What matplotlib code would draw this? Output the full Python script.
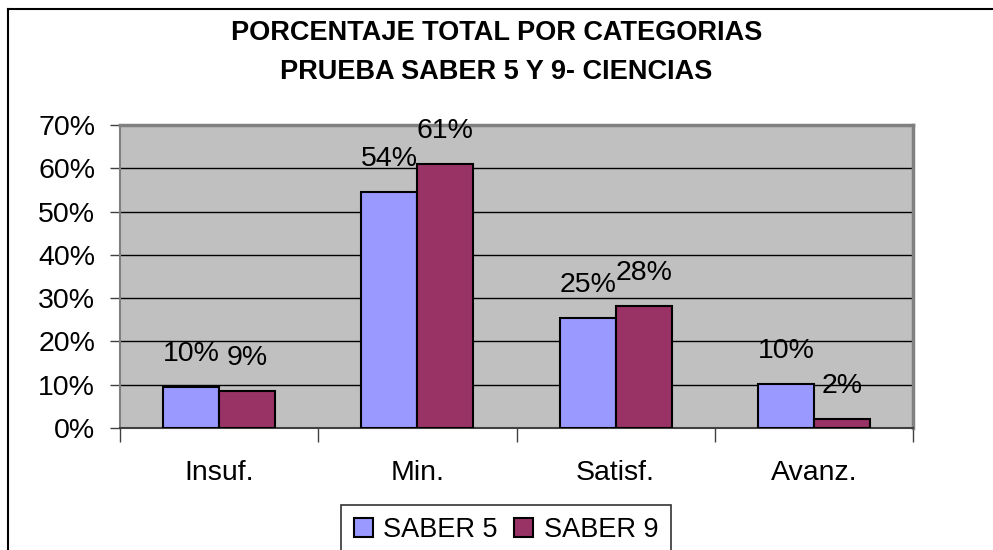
import numpy as np
import matplotlib
matplotlib.use('Agg')
import matplotlib.pyplot as plt
from matplotlib.lines import Line2D
from matplotlib.ticker import FixedLocator

plt.rcParams['font.family'] = ['Liberation Sans', 'DejaVu Sans']

categories = ['Insuf.', 'Min.', 'Satisf.', 'Avanz.']
saber5 = [9.5, 54.6, 25.5, 10.2]
saber9 = [8.6, 60.9, 28.3, 2.1]
labels5 = ['10%', '54%', '25%', '10%']
labels9 = ['9%', '61%', '28%', '2%']
series_names = ['SABER 5', 'SABER 9']

W, H = 993, 550
fig = plt.figure(figsize=(W / 100, H / 100), dpi=100)
ax = fig.add_axes([120 / W, 1 - 428 / H, (913 - 120) / W, (428 - 125) / H])
ax.set_facecolor('#C0C0C0')

index = np.arange(len(categories))
bar_width = 0.283
fs = 20.5

rects1 = ax.bar(index - bar_width / 2, saber5, bar_width, color='#9999FF',
                edgecolor='black', linewidth=1.5, label=series_names[0], zorder=3)
rects2 = ax.bar(index + bar_width / 2, saber9, bar_width, color='#993366',
                edgecolor='black', linewidth=1.5, label=series_names[1], zorder=3)

for rects, labs in ((rects1, labels5), (rects2, labels9)):
    for r, lab in zip(rects, labs):
        ax.annotate(lab, (r.get_x() + r.get_width() / 2, r.get_height()),
                    xytext=(0, 33), textcoords='offset pixels',
                    ha='center', va='center', fontsize=fs, zorder=4)

ax.set_xlim(-0.5, 3.5)
ax.set_ylim(0, 70)
ax.set_yticks(np.arange(0, 71, 10))
ax.set_yticklabels(['%d%%' % v for v in range(0, 71, 10)], fontsize=fs)
ax.set_xticks(index)
ax.set_xticklabels(categories, fontsize=fs)
ax.xaxis.set_minor_locator(FixedLocator(np.arange(-0.5, 4.0, 1.0)))
ax.tick_params(axis='x', which='major', length=0, pad=23)
ax.tick_params(axis='x', which='minor', length=10, width=1, color='#404040', direction='out')
ax.tick_params(axis='y', length=7, width=1, color='#404040', pad=11)

for y in range(10, 70, 10):
    ax.axhline(y, color='black', linewidth=1, zorder=1)

ax.spines['top'].set_color('#808080')
ax.spines['right'].set_color('#808080')
ax.spines['top'].set_linewidth(2.5)
ax.spines['right'].set_linewidth(2.5)
ax.spines['left'].set_color('#808080')
ax.spines['left'].set_linewidth(1.5)
ax.spines['bottom'].set_color('#404040')
ax.spines['bottom'].set_linewidth(1.5)

fig.text(0.5, 1 - 33 / H, 'PORCENTAJE TOTAL POR CATEGORIAS', ha='center', va='center',
         fontsize=19.5, fontweight='bold')
fig.text(0.5, 1 - 72 / H, 'PRUEBA SABER 5 Y 9- CIENCIAS', ha='center', va='center',
         fontsize=19.5, fontweight='bold')

leg = fig.legend(loc='upper center', bbox_to_anchor=(506 / W, 1 - 505 / H), ncol=2,
                 fontsize=19.5, frameon=True, fancybox=False, edgecolor='black',
                 handlelength=0.7, handleheight=0.7, handletextpad=0.4,
                 columnspacing=0.6, borderpad=0.45, borderaxespad=0)
leg.get_frame().set_linewidth(1.2)
for h in leg.legend_handles:
    h.set_linewidth(1.5)

fig.add_artist(Line2D([8 / W, 8 / W], [0, 1 - 9 / H], transform=fig.transFigure,
                      color='black', linewidth=1.5))
fig.add_artist(Line2D([8 / W, 1], [1 - 9 / H, 1 - 9 / H], transform=fig.transFigure,
                      color='black', linewidth=1.5))

fig.savefig('out.png', dpi=100)
